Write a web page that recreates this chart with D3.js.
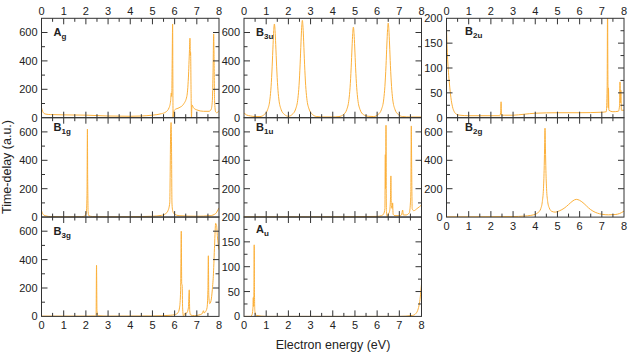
<!DOCTYPE html>
<html>
<head>
<meta charset="utf-8">
<script src="https://cdn.jsdelivr.net/npm/d3@7"></script>
<style>
  body { margin: 0; background: #fff; }
  text { font-family: "Liberation Sans", Arial, Helvetica, sans-serif; fill: #222; }
</style>
</head>
<body>
<div id="chart"></div>
<script>
// Data: [energy (eV), time-delay (a.u.)]
const energyTicks = [0, 1, 2, 3, 4, 5, 6, 7, 8];

const dataAg = [[0,70],[0.05,45],[0.1,32],[0.2,25],[0.4,22],[1,20],[2,18],[3,12],[4,10],[4.5,12],[5,18],[5.4,28],[5.6,40],[5.75,70],[5.82,120],[5.85,175],[5.87,150],[5.89,400],[5.91,660],[5.92,300],[5.93,0],[5.95,40],[6.0,55],[6.2,70],[6.4,95],[6.55,150],[6.62,280],[6.67,480],[6.69,560],[6.7,520],[6.71,440],[6.72,460],[6.74,200],[6.76,0],[6.78,90],[6.85,70],[7.0,55],[7.3,45],[7.55,45],[7.65,60],[7.7,120],[7.73,300],[7.76,590],[7.78,400],[7.8,120],[7.85,40],[7.9,35],[8,50]];

const dataB3u = [[0,35],[0.1,20],[0.3,12],[0.5,8],[0.72,8],[0.92,23],[1.07,59],[1.17,132],[1.22,218],[1.27,363],[1.31,515],[1.34,614],[1.37,660],[1.40,614],[1.43,515],[1.47,363],[1.52,218],[1.57,132],[1.67,59],[1.82,23],[2.0,10],[2.18,24],[2.33,62],[2.43,137],[2.48,226],[2.53,377],[2.57,534],[2.60,637],[2.63,685],[2.66,637],[2.69,534],[2.73,377],[2.78,226],[2.83,137],[2.93,62],[3.08,24],[3.28,8],[3.6,5],[4.0,5],[4.28,8],[4.48,22],[4.63,57],[4.73,128],[4.78,211],[4.83,351],[4.87,498],[4.90,593],[4.93,638],[4.96,593],[4.99,498],[5.03,351],[5.08,211],[5.13,128],[5.23,57],[5.38,22],[5.6,10],[5.85,8],[6.05,23],[6.20,60],[6.30,133],[6.35,220],[6.40,366],[6.44,519],[6.47,619],[6.50,666],[6.53,619],[6.56,519],[6.60,366],[6.65,220],[6.70,133],[6.80,60],[6.95,23],[7.15,8],[7.5,5],[8,5]];

const dataB2u = [[0,180],[0.03,140],[0.06,110],[0.1,85],[0.15,60],[0.2,40],[0.27,22],[0.35,12],[0.45,7],[0.6,5],[1,4],[2,4],[2.4,4],[2.44,10],[2.46,32],[2.48,5],[2.6,5],[3,5],[3.5,7],[4,9],[5,10],[6,10],[7,11],[7.2,12],[7.24,60],[7.26,240],[7.27,120],[7.29,20],[7.3,60],[7.32,15],[7.5,12],[7.75,13],[7.8,25],[7.82,72],[7.84,30],[7.86,55],[7.88,15],[8,15]];

const dataB1g = [[0,45],[0.05,25],[0.1,15],[0.2,8],[0.4,4],[1,2],[1.8,3],[1.95,8],[2.02,30],[2.05,150],[2.07,620],[2.08,300],[2.09,150],[2.1,40],[2.13,10],[2.3,4],[3,2],[4,3],[5,6],[5.4,12],[5.6,25],[5.7,45],[5.78,100],[5.82,590],[5.84,666],[5.86,500],[5.88,100],[5.92,40],[6.0,20],[6.2,10],[7,6],[7.6,10],[7.85,25],[7.95,50],[8,65]];

const dataB1u = [[0,2],[3,2],[5,3],[6,5],[6.2,10],[6.3,25],[6.35,60],[6.37,440],[6.38,200],[6.39,300],[6.40,647],[6.41,200],[6.42,40],[6.46,0],[6.5,20],[6.56,40],[6.6,120],[6.62,290],[6.64,80],[6.68,60],[6.7,100],[6.72,20],[6.8,10],[7.0,10],[7.1,15],[7.15,50],[7.18,15],[7.3,15],[7.45,30],[7.5,100],[7.52,180],[7.54,642],[7.56,300],[7.58,60],[7.65,45],[7.8,60],[8,85]];

const dataB2g = [[0,2],[1,2],[2,3],[3,4],[3.5,7],[3.8,12],[4.0,20],[4.15,35],[4.25,60],[4.32,110],[4.37,200],[4.4,330],[4.42,480],[4.44,626],[4.46,480],[4.48,330],[4.51,200],[4.56,110],[4.63,65],[4.75,40],[4.9,35],[5.1,45],[5.3,62],[5.5,88],[5.7,115],[5.85,125],[6.0,118],[6.2,95],[6.4,65],[6.6,42],[6.8,28],[7.0,20],[7.3,16],[7.6,18],[7.8,25],[8,42]];

const dataB3g = [[0,2],[1,2],[2,2],[2.4,3],[2.46,15],[2.48,360],[2.5,40],[2.55,5],[3,2],[5,3],[5.8,8],[6.0,12],[6.15,25],[6.22,60],[6.27,180],[6.30,600],[6.32,230],[6.34,220],[6.36,60],[6.4,0],[6.45,20],[6.55,25],[6.62,60],[6.66,187],[6.68,40],[6.72,10],[6.9,5],[7.1,10],[7.25,20],[7.3,40],[7.33,25],[7.4,35],[7.46,60],[7.5,180],[7.52,427],[7.54,150],[7.58,90],[7.64,110],[7.7,190],[7.75,300],[7.8,500],[7.85,655],[7.89,640],[7.93,560],[8,470]];

const dataAu = [[0,0],[0.3,0],[0.36,3],[0.4,15],[0.42,38],[0.43,20],[0.45,60],[0.46,144],[0.47,60],[0.49,10],[0.55,2],[1,0],[7,0],[7.6,2],[7.75,6],[7.85,15],[7.92,30],[7.97,50],[8,65]];

// Panel layout: column, row, y range, label
const panels = [
    { name: "A", sub: "g", data: dataAg, col: 0, row: 0, ymax: 700, major: 200, minor: 100, top: true },
    { name: "B", sub: "3u", data: dataB3u, col: 1, row: 0, ymax: 700, major: 200, minor: 100, top: true },
    { name: "B", sub: "2u", data: dataB2u, col: 2, row: 0, ymax: 200, major: 50, minor: 25, top: true, lx: 18.5, ly: 17 },
    { name: "B", sub: "1g", data: dataB1g, col: 0, row: 1, ymax: 700, major: 200, minor: 100, ly: 13.5 },
    // the zero label here sits under the "200" of the A_u panel below
    { name: "B", sub: "1u", data: dataB1u, col: 1, row: 1, ymax: 700, major: 200, minor: 100, ly: 13.5, noZero: true },
    { name: "B", sub: "2g", data: dataB2g, col: 2, row: 1, ymax: 700, major: 200, minor: 100, bottom: true, lx: 18.5, ly: 13.5 },
    { name: "B", sub: "3g", data: dataB3g, col: 0, row: 2, ymax: 700, major: 200, minor: 100, bottom: true },
    { name: "A", sub: "u", data: dataAu, col: 1, row: 2, ymax: 200, major: 50, minor: 25, bottom: true, ly: 15.5 }
];

const width = 630, height = 352;
const colX = [41.5, 244, 446.5], rowY = [18.3, 117.7, 217];
const pw = 177.5, ph = 99.4;

const svg = d3.select("#chart").append("svg")
    .attr("width", width)
    .attr("height", height);

const frameColor = "#333";

panels.forEach(function (p, i) {
    const x0 = colX[p.col], y0 = rowY[p.row];
    const x = d3.scaleLinear().domain([0, 8]).range([x0, x0 + pw]);
    const y = d3.scaleLinear().domain([0, p.ymax]).range([y0 + ph, y0]);
    const g = svg.append("g");

    // clip so spikes stay inside the frame
    g.append("clipPath").attr("id", "clip" + i)
        .append("rect").attr("x", x0).attr("y", y0).attr("width", pw).attr("height", ph);

    const line = d3.line()
        .x(d => x(d[0]))
        .y(d => y(d[1]))
        .curve(d3.curveMonotoneX);

    g.append("path")
        .datum(p.data)
        .attr("clip-path", "url(#clip" + i + ")")
        .attr("fill", "none")
        .attr("stroke", "#fbb03b")
        .attr("stroke-width", 1)
        .attr("d", line);

    // inward ticks on all four sides
    const xt = d3.range(0, 8.01, 0.5);
    xt.forEach(function (v) {
        if (v === 0 || v === 8) return;
        const len = Number.isInteger(v) ? 6 : 3.5;
        g.append("line").attr("x1", x(v)).attr("x2", x(v)).attr("y1", y0).attr("y2", y0 + len).attr("stroke", frameColor);
        g.append("line").attr("x1", x(v)).attr("x2", x(v)).attr("y1", y0 + ph).attr("y2", y0 + ph - len).attr("stroke", frameColor);
    });
    const yt = d3.range(0, p.ymax + 0.01, p.minor);
    yt.forEach(function (v) {
        if (v === 0 || v === p.ymax) return;
        const len = v % p.major === 0 ? 6 : 3.5;
        g.append("line").attr("y1", y(v)).attr("y2", y(v)).attr("x1", x0).attr("x2", x0 + len).attr("stroke", frameColor);
        g.append("line").attr("y1", y(v)).attr("y2", y(v)).attr("x1", x0 + pw).attr("x2", x0 + pw - len).attr("stroke", frameColor);
    });

    g.append("rect")
        .attr("x", x0).attr("y", y0).attr("width", pw).attr("height", ph)
        .attr("fill", "none").attr("stroke", frameColor).attr("stroke-width", 1);

    // y tick labels
    d3.range(0, p.ymax + 0.01, p.major).forEach(function (v) {
        if (v === 0 && p.noZero) return;
        g.append("text")
            .attr("x", x0 - 4).attr("y", y(v)).attr("dy", "0.36em")
            .attr("text-anchor", "end").style("font-size", "11px")
            .text(v);
    });

    // x tick labels
    if (p.top || p.bottom) {
        energyTicks.forEach(function (v) {
            g.append("text")
                .attr("x", x(v))
                .attr("y", p.top ? y0 - 3 : y0 + ph + 13)
                .attr("text-anchor", "middle").style("font-size", "11px")
                .text(v);
        });
    }

    // panel label with subscript
    const lab = g.append("text")
        .attr("x", x0 + (p.lx || 12)).attr("y", y0 + (p.ly || 18))
        .style("font-weight", "bold").style("font-size", "11px");
    lab.append("tspan").text(p.name);
    lab.append("tspan").attr("dy", 3).style("font-size", "8px").text(p.sub);
});

svg.append("text")
    .attr("transform", "translate(11,167) rotate(-90)")
    .attr("text-anchor", "middle")
    .style("font-size", "12.5px")
    .text("Time-delay (a.u.)");

svg.append("text")
    .attr("x", 333).attr("y", 349)
    .attr("text-anchor", "middle")
    .style("font-size", "12.5px")
    .text("Electron energy (eV)");
</script>
</body>
</html>
